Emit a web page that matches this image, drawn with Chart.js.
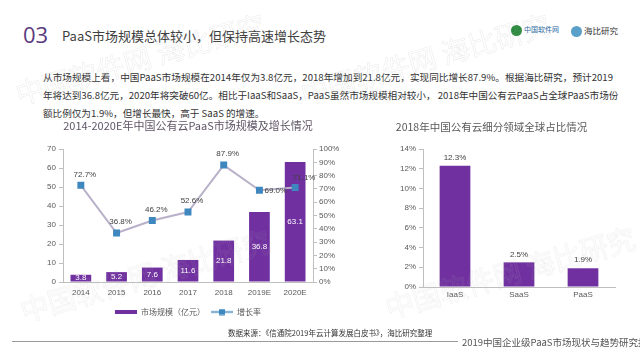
<!DOCTYPE html>
<html>
<head>
<meta charset="utf-8">
<script src="https://cdn.jsdelivr.net/npm/chart.js@4.4.1/dist/chart.umd.min.js"></script>
<style>
	html, body { margin: 0; padding: 0; }
	body { width: 640px; height: 360px; position: relative; overflow: hidden; background: #fff;
		font-family: "Noto Sans CJK SC", "Liberation Sans", sans-serif; }
	.abs { position: absolute; white-space: nowrap; }
	#num { left: 23px; top: 19px; font-size: 22px; color: #5b3a7e; font-family: "Open Sans", "Noto Sans CJK SC", sans-serif; }
	#head { left: 62px; top: 26px; font-size: 13px; color: #404040; }
	#para { left: 43px; top: 68px; font-size: 9.6px; line-height: 18px; color: #333; white-space: nowrap; }
	#para .ln { width: 570px; text-align: justify; text-align-last: justify; }
	#para .last { text-align: left; text-align-last: left; }
	#src { left: 228px; top: 327px; font-size: 7.5px; color: #333; }
	#foot { left: 462px; top: 335px; font-size: 9.5px; color: #555; }
	#rule { left: 12px; top: 341px; width: 446px; height: 1px; background: #9a9a9a; }
	.wm { position: absolute; white-space: nowrap; font-size: 28px; line-height: 30px; color: rgba(255,255,255,0);
		-webkit-text-stroke: 0.5px rgba(175,175,175,0.28); transform-origin: 0 100%; transform: rotate(-16deg); pointer-events: none; z-index: 5; }
	canvas { position: absolute; }
	#logo1 { left: 511px; top: 24px; font-size: 7px; color: #1f6aa5; }
	#logo2 { left: 571px; top: 24px; font-size: 8.5px; color: #333; }
	.dot { display: inline-block; width: 11px; height: 11px; border-radius: 6px; vertical-align: middle; margin-right: 2px; }
</style>
</head>
<body>
<div class="abs" id="num">03</div>
<div class="abs" id="head">PaaS市场规模总体较小，但保持高速增长态势</div>
<div class="abs" id="logo1"><span class="dot" style="background:#2b8a3e;"></span>中国软件网</div>
<div class="abs" id="logo2"><span class="dot" style="background:#5aa0c8;"></span>海比研究</div>
<div class="abs" id="para">
	<div class="ln">从市场规模上看，中国PaaS市场规模在2014年仅为3.8亿元，2018年增加到21.8亿元，实现同比增长87.9%。根据海比研究，预计2019</div>
	<div class="ln">年将达到36.8亿元，2020年将突破60亿。相比于IaaS和SaaS，PaaS虽然市场规模相对较小， 2018年中国公有云PaaS占全球PaaS市场份</div>
	<div class="ln last">额比例仅为1.9%，但增长最快，高于 SaaS 的增速。</div>
</div>

<canvas id="myChart" width="304" height="218" style="left:36px; top:110px; width:304px; height:218px;"></canvas>
<canvas id="myChart2" width="272" height="215" style="left:368px; top:110px; width:272px; height:215px;"></canvas>

<div class="abs" id="src">数据来源：《信通院2019年云计算发展白皮书》，海比研究整理</div>
<div class="abs" id="rule"></div>
<div class="abs" id="foot">2019中国企业级PaaS市场现状与趋势研究报告</div>

<div class="wm" style="left:20px; top:78px;">中国软件网 海比研究</div>
<div class="wm" style="left:305px; top:78px;">中国软件网 海比研究</div>
<div class="wm" style="left:25px; top:295px;">中国软件网 海比研究</div>
<div class="wm" style="left:390px; top:292px;">中国软件网 海比研究</div>

<script>
//연도
var years = ['2014', '2015', '2016', '2017', '2018', '2019E', '2020E'];
//시장규모 (亿元)
var marketSize = [3.8, 5.2, 7.6, 11.6, 21.8, 36.8, 63.1];
//증가율 (%)
var growthRate = [72.7, 36.8, 46.2, 52.6, 87.9, 69.0, 71.1];
//세부 영역
var segments = ['IaaS', 'SaaS', 'PaaS'];
//글로벌 점유율 (%)
var globalShare = [12.3, 2.5, 1.9];

var purple = '#7030A0';
var lineGray = '#b9b1c9';
var markerBlue = '#3f87bf';
var tickColor = '#595959';
var axisColor = '#bfbfbf';
var font = '"Liberation Sans", "Noto Sans CJK SC", sans-serif';

//범례 아이콘
function barIcon() {
	var c = document.createElement('canvas');
	c.width = 22; c.height = 6;
	var g = c.getContext('2d');
	g.fillStyle = purple;
	g.fillRect(0, 1, 22, 4);
	return c;
}
function lineIcon() {
	var c = document.createElement('canvas');
	c.width = 22; c.height = 7;
	var g = c.getContext('2d');
	g.strokeStyle = markerBlue;
	g.lineWidth = 1.5;
	g.beginPath(); g.moveTo(0, 3.5); g.lineTo(22, 3.5); g.stroke();
	g.fillStyle = markerBlue;
	g.fillRect(8, 0.5, 6, 6);
	return c;
}

//데이터 라벨
var labelPlugin = {
	id: 'labels',
	afterDatasetsDraw: function(chart) {
		var ctx = chart.ctx;
		ctx.save();
		ctx.textAlign = 'center';
		ctx.textBaseline = 'middle';
		ctx.font = '8px ' + font;
		chart.data.datasets.forEach(function(ds, di) {
			var meta = chart.getDatasetMeta(di);
			meta.data.forEach(function(el, i) {
				var v = ds.data[i];
				if (chart.canvas.id === 'myChart') {
					if (ds.type === 'bar') {
						ctx.fillStyle = '#ffffff';
						ctx.fillText(v.toFixed(1), el.x, (el.y + el.base) / 2);
					} else {
						ctx.fillStyle = '#404040';
						var t = v.toFixed(1) + '%';
						if (i === 5) {
							ctx.textAlign = 'left';
							ctx.fillText(t, el.x + 5, el.y + 1);
							ctx.textAlign = 'center';
						} else if (i === 6) {
							ctx.fillText(t, el.x + 9, el.y - 10);
						} else {
							ctx.fillText(t, el.x + 4, el.y - 11);
						}
					}
				} else {
					ctx.fillStyle = '#404040';
					ctx.fillText(v.toFixed(1) + '%', el.x, el.y - 8);
				}
			});
		});
		ctx.restore();
	}
};

var ctx = document.getElementById('myChart').getContext('2d');
var data = {
	type: 'bar',
	data: {
		labels: years,
		datasets: [{
			type: 'line',
			label: '增长率',
			data: growthRate,
			yAxisID: 'y1',
			borderColor: lineGray,
			borderWidth: 2,
			pointStyle: 'rect',
			pointRadius: 3.5,
			pointBackgroundColor: markerBlue,
			pointBorderColor: markerBlue,
			order: 0
		}, {
			type: 'bar',
			label: '市场规模（亿元）',
			data: marketSize,
			yAxisID: 'y',
			backgroundColor: purple,
			categoryPercentage: 1,
			barPercentage: 0.58,
			order: 1
		}]
	},
	options: {
		responsive: false,
		animation: false,
		layout: { padding: { left: 0, right: 0, top: 1, bottom: 2 } },
		plugins: {
			title: {
				display: true,
				text: '2014-2020E年中国公有云PaaS市场规模及增长情况',
				color: '#5f5566',
				font: { size: 11, family: '"Noto Sans CJK SC", sans-serif', weight: 'normal' },
				padding: { top: 8.6, bottom: 16.2 }
			},
			legend: {
				position: 'bottom',
				labels: {
					usePointStyle: true,
					pointStyleWidth: 22,
					color: tickColor,
					font: { size: 8, family: '"Noto Sans CJK SC", sans-serif' },
					padding: 6,
					generateLabels: function(chart) {
						return [{
							text: '市场规模（亿元）', pointStyle: barIcon(), datasetIndex: 1,
							fillStyle: purple, strokeStyle: purple, lineWidth: 0, fontColor: tickColor
						}, {
							text: '增长率', pointStyle: lineIcon(), datasetIndex: 0,
							fillStyle: markerBlue, strokeStyle: markerBlue, lineWidth: 0, fontColor: tickColor
						}];
					}
				}
			},
			tooltip: { enabled: false }
		},
		scales: {
			x: {
				grid: { drawOnChartArea: false, drawTicks: false, color: axisColor },
				border: { color: axisColor },
				ticks: { color: tickColor, font: { size: 8, family: font }, padding: 6 },
				afterFit: function(scale) { scale.height = 20; }
			},
			y: {
				position: 'left',
				min: 0, max: 70,
				ticks: { stepSize: 10, color: tickColor, font: { size: 8, family: font }, padding: 3 },
				grid: { drawOnChartArea: false, tickLength: 4, color: axisColor },
				border: { color: axisColor },
				afterFit: function(scale) { scale.width = 27; }
			},
			y1: {
				position: 'right',
				min: 0, max: 100,
				ticks: { stepSize: 10, color: tickColor, font: { size: 8, family: font }, padding: 2,
					callback: function(v) { return v + '%'; } },
				grid: { drawOnChartArea: false, tickLength: 4, color: axisColor },
				border: { color: axisColor },
				afterFit: function(scale) { scale.width = 27; }
			}
		}
	},
	plugins: [labelPlugin]
};
var chart = new Chart(ctx, data);

var ctx2 = document.getElementById('myChart2').getContext('2d');
var data2 = {
	type: 'bar',
	data: {
		labels: segments,
		datasets: [{
			label: '全球占比',
			data: globalShare,
			backgroundColor: purple,
			categoryPercentage: 1,
			barPercentage: 0.48
		}]
	},
	options: {
		responsive: false,
		animation: false,
		layout: { padding: { left: 0, right: 25, top: 0, bottom: 20 } },
		plugins: {
			title: {
				display: true,
				text: '2018年中国公有云细分领域全球占比情况',
				color: '#595959',
				font: { size: 10.5, family: '"Noto Sans CJK SC", sans-serif', weight: 'normal' },
				padding: { top: 10.3, bottom: 16.1 }
			},
			legend: { display: false },
			tooltip: { enabled: false }
		},
		scales: {
			x: {
				grid: { drawOnChartArea: false, drawTicks: false, color: axisColor },
				border: { color: axisColor },
				ticks: { color: tickColor, font: { size: 8, family: font }, padding: 3 },
				afterFit: function(scale) { scale.height = 18; }
			},
			y: {
				min: 0, max: 14,
				ticks: { stepSize: 2, color: tickColor, font: { size: 8, family: font }, padding: 3,
					callback: function(v) { return v + '%'; } },
				grid: { drawOnChartArea: false, tickLength: 4, color: axisColor },
				border: { color: axisColor },
				afterFit: function(scale) { scale.width = 55; }
			}
		}
	},
	plugins: [labelPlugin]
};
var chart2 = new Chart(ctx2, data2);
</script>
</body>
</html>
